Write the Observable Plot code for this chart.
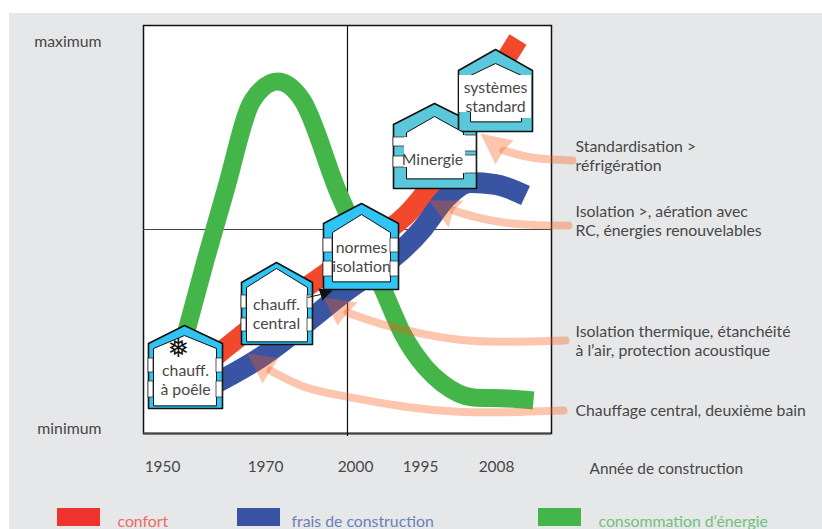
<!DOCTYPE html>
<html><head><meta charset="utf-8">
<script src="https://cdn.jsdelivr.net/npm/d3@7"></script>
<script src="https://cdn.jsdelivr.net/npm/@observablehq/plot@0.6"></script>
<style>html,body{margin:0;background:#fff}svg{display:block}</style>
</head><body><div id="chart"></div>
<script>
// Axis units: position inside the 408×408 frame of the schematic (0 = minimum)
const xTickPositions = [19, 122, 212, 277, 353];
const xTickLabels = ["1950", "1970", "2000", "1995", "2008"];
const yTickPositions = [392, 5];
const yTickLabels = ["maximum", "minimum"];

const greenX = [35,62,82,109,134,159,194,240,259,282,299,330,364,390];
const greenY = [73,173,243,333,352,333,243,143,100,66,50,36,35,33];
const redX = [57,79,127,175,222,267,297,327,362,374.5];
const redY = [65,83,121,155,188,223,263,318,374,394];
const blueX = [62,117,194,280,302,327,352,382];
const blueY = [45,76,136,206,235,251,249,238];

const arrow1X = [127,160,197,224,264,314,364,420], arrow1Y = [63,45,38,33,26,21,21,23];
const arrow2X = [204,240,277,314,364,422], arrow2Y = [121,108,100,93,91,93];
const arrow3X = [310,332,357,390,425], arrow3Y = [223,216,211,208,208];
const arrow4X = [360,384,404,429], arrow4Y = [283,276,274,273];
const headX = [[104,135,127,119],[180,214,204,194],[286,320,310,305],[337,370,360,352]];
const headY = [[80,75,63,50],[136,131,121,108],[233,233,223,206],[300,293,283,269]];

const houseLabels = ["chauff.\nà poêle","chauff.\ncentral","normes\nisolation","Minergie","systèmes\nstandard"];
const labelX = [42,133,218,289,352], labelY = [54,120,177,275,337];
const outerLeft = [5,98,180,250,315], outerRight = [79,169,255,333,389];
const peakX = [41,133,218,291,352];
const outerPeak = [108,171,230,330,384], outerEaves = [90,151,210,309,363], outerBase = [25,89,144,245,302];
const innerLeft = [10,103,189,263,327], innerRight = [73,164,247,320,378];
const innerPeak = [98,165,219,317,370], innerEaves = [85,146,201,301,358], innerBase = [28,92,152,255,312];
const houseColors = ["#2fc4f4","#2fc4f4","#2fc4f4","#5bc7da","#5bc7da"];

const winHouse = [0,0,0,0,1,1,1,1,2,2,2,2,3,3,3,3];
const winSide  = [0,0,1,1,0,0,1,1,0,0,1,1,0,0,1,1];
const winTop   = [75,52,75,52,138,115,138,115,195,172,195,172,296,277,298,278];
const winBot   = [61,36,61,36,125,102,125,102,181,157,181,157,287,266,282,260];
const patchX1 = [261,318,316,378], patchX2 = [265,322,388,388];
const patchY1 = [296,298,358,358], patchY2 = [266,260,321,315];

const notes = ["Standardisation >\nréfrigération","Isolation >, aération avec\nRC, énergies renouvelables","Isolation thermique, étanchéité\nà l’air, protection acoustique","Chauffage central, deuxième bain"];
const noteY = [278,213,93,24];

const legendLabels = ["confort","frais de construction","consommation d’énergie"];
const legendColors = ["#f1332e","#3a54a4","#44b649"];
const legendTextColors = ["#ee6a66","#6c80ba","#6fc27c"];
const legendSwatch = [-86,94,395];
const legendTextX = [-26,148,455];

const pts = (xs, ys) => xs.map((x, i) => ({x, y: ys[i]}));
const outerPolys = outerLeft.flatMap((_, i) => [
  [outerLeft[i],outerBase[i]],[outerLeft[i],outerEaves[i]],[peakX[i],outerPeak[i]],[outerRight[i],outerEaves[i]],[outerRight[i],outerBase[i]]
].map(([x,y]) => ({x,y,h:i,c:houseColors[i]})));
const innerPolys = innerLeft.flatMap((_, i) => [
  [innerLeft[i],innerBase[i]],[innerLeft[i],innerEaves[i]],[peakX[i],innerPeak[i]],[innerRight[i],innerEaves[i]],[innerRight[i],innerBase[i]]
].map(([x,y]) => ({x,y,h:i})));
const windows = winHouse.map((h, i) => ({
  x1: winSide[i] ? innerRight[h] : outerLeft[h],
  x2: winSide[i] ? outerRight[h] : innerLeft[h],
  y1: winTop[i], y2: winBot[i]
}));
const patches = patchX1.map((x1, i) => ({x1, x2: patchX2[i], y1: patchY1[i], y2: patchY2[i]}));
const heads = headX.flatMap((xs, k) => xs.map((x, i) => ({x, y: headY[k][i], k})));

const arrowStyle = {stroke: "#f65c18", strokeOpacity: .35, strokeWidth: 8, curve: "basis", x: "x", y: "y"};
const ink = "#474747";

const chart = Plot.plot({
  width: 822, height: 529,
  marginLeft: 143, marginRight: 271, marginTop: 25, marginBottom: 96,
  x: {domain: [0, 408]},
  y: {domain: [0, 408]},
  style: {fontFamily: "Lato", background: "transparent", color: ink},
  marks: [
    Plot.rect([{}], {x1: -134, x2: 679, y1: 420, y2: -96, fill: "#e6e7e9"}),
    Plot.frame({fill: "white", stroke: "#111", strokeWidth: 1.5}),
    Plot.ruleY([0], {stroke: "#444", strokeWidth: 2}),
    Plot.ruleY([204], {stroke: "#444", strokeWidth: 1.2}),
    Plot.ruleX([204], {y1: -3, y2: 408, stroke: "#111", strokeWidth: 1.2}),

    Plot.line(pts(greenX, greenY), {x: "x", y: "y", stroke: "#44b649", strokeWidth: 18, curve: "monotone-x", strokeLinecap: "butt"}),
    Plot.line(pts(redX, redY), {x: "x", y: "y", stroke: "#f2492d", strokeWidth: 20, curve: "monotone-x", strokeLinecap: "butt"}),
    Plot.line(pts(blueX, blueY), {x: "x", y: "y", stroke: "#3a54a4", strokeWidth: 21, curve: "monotone-x", strokeLinecap: "butt"}),

    Plot.line(pts(arrow1X, arrow1Y), arrowStyle),
    Plot.line(pts(arrow2X, arrow2Y), arrowStyle),
    Plot.line(pts(arrow3X, arrow3Y), arrowStyle),
    Plot.line(pts(arrow4X, arrow4Y), arrowStyle),
    Plot.line(heads, {x: "x", y: "y", z: "k", fill: "#f65c18", fillOpacity: .35, curve: "linear-closed", stroke: null}),

    Plot.line(outerPolys, {x: "x", y: "y", z: "h", fill: "c", stroke: "#111", strokeWidth: 1.6, curve: "linear-closed"}),
    Plot.line(innerPolys, {x: "x", y: "y", z: "h", fill: "white", stroke: "#111", strokeWidth: 1, curve: "linear-closed"}),
    Plot.rect(windows, {x1: "x1", x2: "x2", y1: "y1", y2: "y2", fill: "white", stroke: "#333", strokeWidth: .8}),
    Plot.rect(patches, {x1: "x1", x2: "x2", y1: "y1", y2: "y2", fill: "white"}),

    Plot.link([{}], {x1: 164, y1: 136, x2: 177, y2: 139, stroke: "#111", strokeWidth: 1}),
    Plot.line(pts([175,179,189], [145,133,143]), {x: "x", y: "y", fill: "#111", curve: "linear-closed", stroke: null}),

    Plot.text(["❅"], {x: 35, y: 85, fontFamily: "DejaVu Sans", fontSize: 26, fill: "#111"}),
    Plot.text(houseLabels, {x: labelX, y: labelY, fontSize: 15.8, lineHeight: 1.2, fill: ink}),
    Plot.text(notes, {x: 432, y: noteY, textAnchor: "start", fontSize: 15.8, lineHeight: 1.22, fill: ink}),
    Plot.text(["Année de construction"], {x: 446, y: -36, textAnchor: "start", fontSize: 15.4, fill: ink}),

    Plot.rect(legendColors, {x1: legendSwatch, x2: legendSwatch.map(v => v + 43), y1: -75, y2: -93, fill: legendColors}),
    Plot.text(legendLabels, {x: legendTextX, y: -88, textAnchor: "start", fontSize: 15.8, fill: legendTextColors}),

    Plot.axisX({ticks: xTickPositions, tickSize: 0, tickPadding: 28, fontSize: 15.4, label: null,
      tickFormat: v => xTickLabels[xTickPositions.indexOf(v)]}),
    Plot.axisY({ticks: yTickPositions, tickSize: 0, tickPadding: 42, fontSize: 15.8, label: null,
      tickFormat: v => yTickLabels[yTickPositions.indexOf(v)]})
  ]
});
document.getElementById("chart").append(chart);
</script></body></html>
